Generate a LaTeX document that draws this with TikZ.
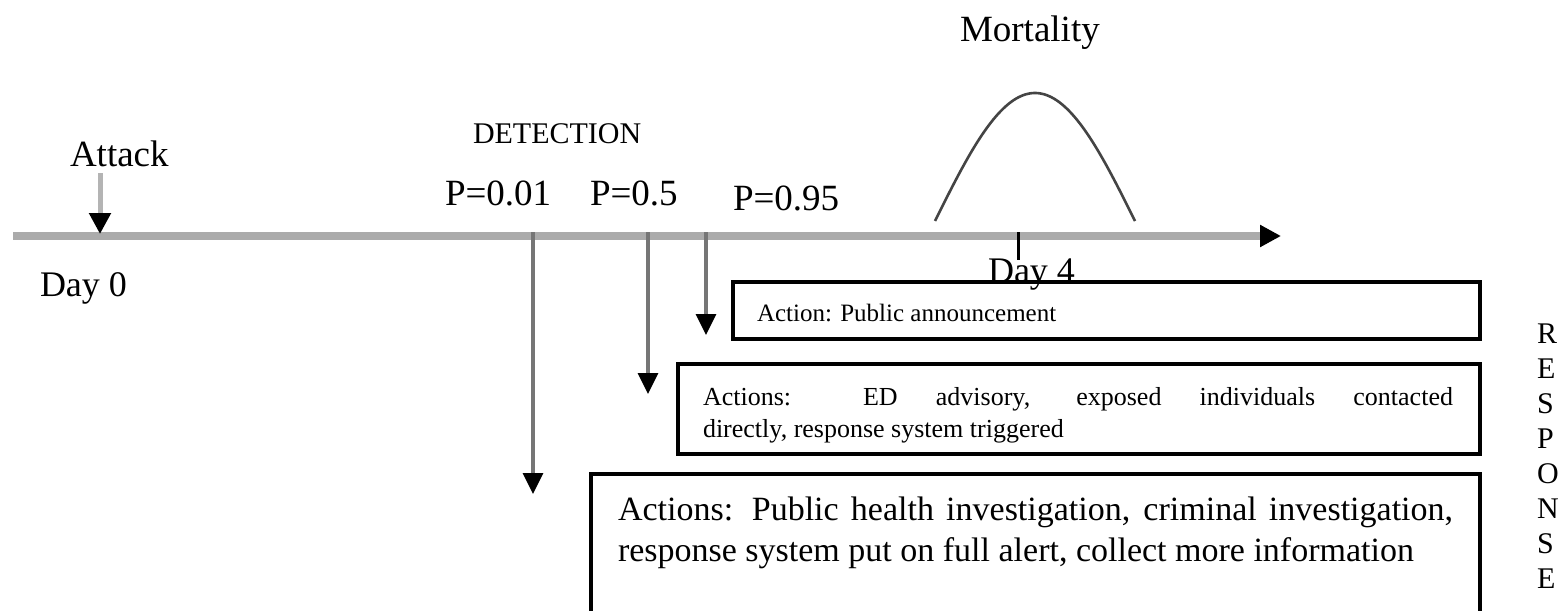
\documentclass[tikz,border=0pt]{standalone}
\usepackage{fontspec}
\setmainfont{Liberation Serif}
\usetikzlibrary{arrows.meta}
\definecolor{tlgray}{HTML}{ABABAB}
\definecolor{atgray}{HTML}{B4B4B4}
\definecolor{detgray}{HTML}{767676}
\definecolor{curvegray}{HTML}{444444}
\tikzset{
  lbl/.style={anchor=base west, inner sep=0pt, outer sep=0pt},
  bigtxt/.style={lbl, font=\fontsize{18.5}{22}\selectfont},
  actbox/.style={draw=black, line width=2pt, inner sep=0pt, outer sep=0pt, anchor=north west},
  timeline/.style={draw=tlgray, line width=4pt, -{Triangle[length=10.5pt,width=10.5pt,color=black]}},
  attackarrow/.style={draw=atgray, line width=2.5pt, -{Triangle[length=10.5pt,width=10.5pt,color=black]}},
  detarrow/.style={draw=detgray, line width=1.6pt, -{Triangle[length=10.5pt,width=10pt,color=black]}},
  daytick/.style={draw=black, line width=1.5pt},
  mortcurve/.style={draw=curvegray, line width=1.3pt}
}
\begin{document}
\begin{tikzpicture}[x=0.5pt,y=-0.5pt]
\path[use as bounding box, clip] (0,0) rectangle (1562,610);
\fill[white] (0,0) rectangle (1562,610);

% coordinates
\coordinate (tl0) at (13,236);
\coordinate (tl1) at (1281,236);
\coordinate (at0) at (100,173);
\coordinate (at1) at (100,234);
\coordinate (d1s) at (533,232);
\coordinate (d1e) at (533,494);
\coordinate (d2s) at (648,232);
\coordinate (d2e) at (648,394);
\coordinate (d3s) at (706,232);
\coordinate (d3e) at (706,335);
\coordinate (tk0) at (1018,232);
\coordinate (tk1) at (1018,260);

% labels
\node[bigtxt] (mort) at (960,42) {Mortality};
\node[bigtxt] (attack) at (70,166) {Attack};
\node[lbl, font=\fontsize{18}{22}\selectfont] (day0) at (40,296) {Day 0};
\node[lbl, font=\fontsize{15}{18}\selectfont] (detect) at (473,143) {DETECTION};
\node[bigtxt] (p1) at (445,205) {P=0.01};
\node[bigtxt] (p2) at (590,205) {P=0.5};
\node[bigtxt] (p3) at (733,210) {P=0.95};
\node[lbl, font=\fontsize{18}{22}\selectfont] (day4) at (988,282) {Day 4};

% mortality curve
\draw[mortcurve] plot[domain=0:200, samples=80] ({935+\x},{221-128*sin(\x*0.9)});

% timeline and arrows
\draw[timeline] (tl0) -- (tl1);
\draw[daytick] (tk0) -- (tk1);
\draw[attackarrow] (at0) -- (at1);
\draw[detarrow] (d1s) -- (d1e);
\draw[detarrow] (d2s) -- (d2e);
\draw[detarrow] (d3s) -- (d3e);

% action boxes
\node[actbox, minimum width=373.5pt, minimum height=28.5pt] (box1) at (733,282) {};
\node[actbox, minimum width=401pt, minimum height=45pt] (box2) at (678,364) {};
\node[actbox, minimum width=444.5pt, minimum height=88pt] (box3) at (591,474) {};

\node[lbl, font=\fontsize{12.5}{15}\selectfont] (t1) at (757,321) {Action: Public announcement};
\node[lbl, font=\fontsize{13}{16}\selectfont, text width=375pt, align=justify] (t2) at (703,405)
  {Actions: ED advisory, exposed individuals contacted\linebreak directly, response system triggered};
\node[lbl, font=\fontsize{17}{20.5}\selectfont, text width=417.5pt, align=justify] (t3) at (618,520)
  {Actions: Public health investigation, criminal investigation,\linebreak response system put on full alert, collect more information};

\node[lbl, font=\fontsize{15}{17.5}\selectfont, align=left] (resp) at (1537,588) {R\\E\\S\\P\\O\\N\\S\\E};
\end{tikzpicture}
\end{document}
